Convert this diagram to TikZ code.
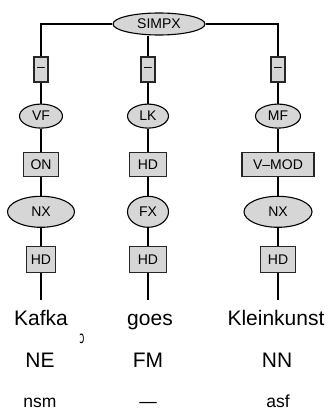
\documentclass[tikz,border=0pt]{standalone}
\usepackage{fontspec}
\setmainfont{Liberation Sans}
\newfontfamily\glyphfont{DejaVu Sans}
\usetikzlibrary{positioning, shapes.geometric}
\tikzset{
  cat/.style={ellipse,draw=black,fill=black!16,line width=1.1pt,inner sep=0pt,
    font=\fontsize{14}{16}\selectfont,minimum height=24pt},
  fn/.style={rectangle,draw=black!85,fill=black!16,line width=1.1pt,inner sep=0pt,
    font=\fontsize{14}{16}\selectfont,minimum height=24pt,minimum width=35pt},
  slot/.style={fn,minimum width=14pt,minimum height=25pt},
  word/.style={anchor=base,inner sep=0pt,text height=25pt,font=\fontsize{21}{25}\selectfont},
  tag/.style={anchor=base,inner sep=0pt,font=\fontsize{21}{25}\selectfont},
  morph/.style={anchor=base,inner sep=0pt,font=\fontsize{17.5}{21}\selectfont},
  ln/.style={line width=1.1pt}
}

\begin{document}
\begin{tikzpicture}[x=1pt,y=-1pt]
\useasboundingbox (0,0) rectangle (334,412);
\node[cat,minimum width=92pt,minimum height=22pt] (simpx) at (159,24) {SIMPX};
% left column
\node[slot] (s1) at (41,69.5) {--};
\node[cat,minimum width=43pt,below=21pt of s1] (vf) {VF};
\node[fn,below=23pt of vf] (on) {ON};
\node[cat,minimum width=67pt,minimum height=31pt,below=19pt of on] (nx1) {NX};
\node[fn,minimum width=29pt,minimum height=26pt,below=18pt of nx1] (hd1) {HD};
% middle column
\node[slot] (s2) at (148,69.5) {--};
\node[cat,minimum width=41pt,below=21pt of s2] (lk) {LK};
\node[fn,minimum width=37pt,below=23pt of lk] (hd2) {HD};
\node[cat,minimum width=41pt,minimum height=31pt,below=19pt of hd2] (fx) {FX};
\node[fn,minimum width=37pt,minimum height=26pt,below=18pt of fx] (hd3) {HD};
% right column
\node[slot] (s3) at (278,69.5) {--};
\node[cat,minimum width=45pt,below=21pt of s3] (mf) {MF};
\node[fn,minimum width=72pt,below=23pt of mf] (vmod) {V--MOD};
\node[cat,minimum width=68pt,minimum height=31pt,below=19pt of vmod] (nx2) {NX};
\node[fn,minimum width=35pt,minimum height=26pt,below=18pt of nx2] (hd4) {HD};
% tokens
\node[word] (kafka) at (41,325) {Kafka};
\node[word] (goes) at (150,325) {goes};
\node[word] (klein) at (276,325) {Kleinkunst};
\node[inner sep=0pt,font=\glyphfont\fontsize{17}{19}\selectfont] (mark) at (82,339) {\scalebox{0.55}[1]{ɔ}};
\node[tag] (ne) at (40,367) {NE};
\node[tag] (fm) at (148,367) {FM};
\node[tag] (nn) at (277,367) {NN};
\node[morph] (nsm) at (40,407) {nsm};
\node[morph] (none) at (148,407) {—};
\node[morph] (asf) at (278,407) {asf};
% edges
\draw[ln] (simpx.west) -| (s1.north);
\draw[ln] (simpx.east) -| (s3.north);
\draw[ln] (s2.north) -- (s2.north |- simpx.south);
\draw[ln] (s1) -- (vf) -- (on) -- (nx1) -- (hd1) -- (hd1 |- kafka.north);
\draw[ln] (s2) -- (lk) -- (hd2) -- (fx) -- (hd3) -- (hd3 |- goes.north);
\draw[ln] (s3) -- (mf) -- (vmod) -- (nx2) -- (hd4) -- (hd4 |- klein.north);
\end{tikzpicture}
\end{document}
